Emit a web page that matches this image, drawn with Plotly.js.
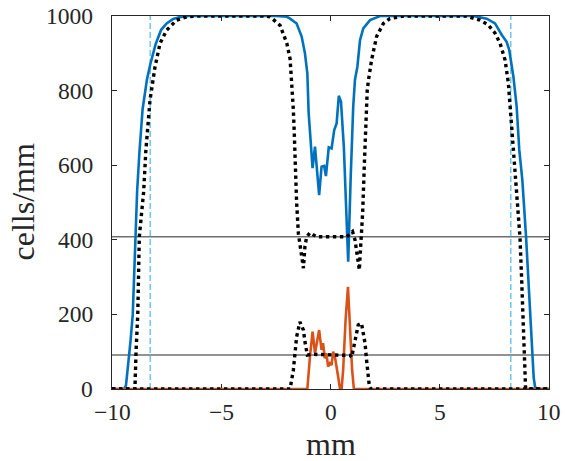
<!DOCTYPE html>
<html>
<head>
<meta charset="utf-8">
<script src="https://cdn.plot.ly/plotly-3.0.1.min.js"></script>
<style>html,body{margin:0;padding:0;background:#fff;}#chart{width:565px;height:461px;}</style>
</head>
<body>
<div id="chart"></div>
<script>
// Blue solid series
const blueX = [-10,-9.45,-9.36,-9.25,-9.15,-9.05,-8.98,-8.92,-8.85,-8.75,-8.6,-8.4,-8.25,-8.0,-7.75,-7.5,-7.2,-6.9,-6.5,-2.5,-2.0,-1.85,-1.55,-1.32,-1.17,-1.06,-1.0,-0.82,-0.71,-0.52,-0.41,-0.29,-0.21,-0.08,0.05,0.17,0.28,0.38,0.48,0.61,0.81,0.92,1.04,1.12,1.23,1.35,1.50,1.81,2.27,6.54,7.15,7.53,7.84,8.06,8.18,8.37,8.52,8.64,8.78,8.95,9.13,9.21,9.3,9.36,9.45,10];
const blueY = [0,0,10,70,130,200,330,440,530,630,750,830,870,925,963,980,992,997,1000,1000,998,993,980,945,900,846,740,592,650,520,596,598,571,648,645,694,712,786,770,650,341,560,757,829,864,935,967,989,1000,1000,993,980,949,931,909,838,757,641,560,408,203,96,30,6,0,0];

// Orange solid series
const orangeX = [-10,-1.06,-0.94,-0.82,-0.71,-0.52,-0.41,-0.34,-0.26,-0.19,-0.11,-0.03,0.05,0.12,0.2,0.28,0.35,0.43,0.51,0.58,0.69,0.80,0.89,0.99,1.07,10];
const orangeY = [0,0,87,154,96,158,105,123,82,96,60,69,64,100,87,51,33,2,2,51,185,274,167,51,0,0];

// Black dotted series (upper)
const dotTopX = [-10,-8.95,-8.9,-8.82,-8.75,-8.55,-8.45,-8.35,-8.26,-8.03,-7.80,-7.5,-7.04,-6.58,-6.0,-3.0,-2.77,-2.31,-2.0,-1.85,-1.77,-1.70,-1.66,-1.62,-1.55,-1.47,-1.32,-1.24,-1.17,-1.09,-0.94,-0.64,0.74,1.01,1.12,1.23,1.32,1.38,1.47,1.55,1.62,1.68,1.73,1.88,2.11,2.42,2.72,3.33,6.2,6.54,6.84,7.22,7.53,7.76,7.99,8.14,8.25,8.37,8.48,8.67,8.75,8.82,8.90,8.93,10];
const dotTopY = [0,0,100,200,408,530,640,720,775,864,927,962,989,998,1000,1000,998,975,927,885,824,748,690,605,500,417,346,324,382,408,419,408,408,422,400,355,319,382,471,605,739,800,825,882,945,980,993,1000,1000,993,989,976,954,927,882,820,730,641,556,408,292,158,24,0,0];

// Black dotted series (lower)
const dotLowX = [-10,-1.85,-1.70,-1.62,-1.55,-1.40,-1.24,-1.17,-1.06,-0.8,0.9,0.97,1.04,1.17,1.27,1.42,1.58,1.65,1.78,1.85,10];
const dotLowY = [0,0,51,96,140,180,158,127,91,93,90,85,105,140,172,176,123,78,6,0,0];

// Reference lines
const hLevels = [408, 91];
const vMarks = [-8.25, 8.25];

const xTicks = [-10, -5, 0, 5, 10];
const yTicks = [0, 200, 400, 600, 800, 1000];
const xTitle = 'mm';
const yTitle = 'cells/mm';

const FONT = 'Liberation Serif';
const TXT = '#262626';

const shapes = [];
hLevels.forEach(v => shapes.push({type:'line', xref:'paper', x0:0, x1:1, yref:'y', y0:v, y1:v, layer:'below', line:{color:'#6e6e6e', width:1.5}}));
vMarks.forEach(v => shapes.push({type:'line', yref:'paper', y0:0, y1:1, xref:'x', x0:v, x1:v, layer:'below', line:{color:'#74c8f0', width:1.6, dash:'6px,3px'}}));

const annotations = [];
xTicks.forEach(v => annotations.push({
  xref:'x', x:v, yref:'paper', y:0, xanchor:'center', yanchor:'top', yshift:-9,
  text: v < 0 ? '\u2212' + Math.abs(v) : String(v), showarrow:false, borderpad:0,
  font:{family:FONT, size:23.5, color:TXT}
}));
yTicks.forEach(v => annotations.push({
  xref:'paper', x:0, yref:'y', y:v, xanchor:'right', yanchor:'middle', xshift:-18,
  text: String(v), showarrow:false, borderpad:0,
  font:{family:FONT, size:23.5, color:TXT}
}));
annotations.push({xref:'paper', x:0.5, yref:'paper', y:0, xanchor:'center', yanchor:'top', yshift:-36,
  text:xTitle, showarrow:false, borderpad:0, font:{family:FONT, size:32, color:TXT}});
annotations.push({xref:'paper', x:0, yref:'paper', y:0.5, xanchor:'center', yanchor:'middle', xshift:-90, textangle:-90,
  text:yTitle, showarrow:false, borderpad:0, font:{family:FONT, size:32, color:TXT}});

const traces = [
  {x: blueX, y: blueY, mode:'lines', line:{color:'#0072BD', width:2.6}, cliponaxis:false},
  {x: orangeX, y: orangeY, mode:'lines', line:{color:'#D95319', width:2.6}, cliponaxis:false},
  {x: dotTopX, y: dotTopY, mode:'lines', line:{color:'#000000', width:3.4, dash:'3.4px,3.6px'}, cliponaxis:false},
  {x: dotLowX, y: dotLowY, mode:'lines', line:{color:'#000000', width:3.4, dash:'3.4px,3.6px'}, cliponaxis:false}
];

function axis(extra) {
  return Object.assign({
    showgrid:false, zeroline:false, showline:true, mirror:'ticks', showticklabels:false,
    linecolor:'#262626', linewidth:1, ticks:'inside', ticklen:5, tickwidth:1, tickcolor:'#262626',
    layer:'below traces', automargin:false
  }, extra);
}

const layout = {
  width:565, height:461,
  font:{family:FONT, size:22, color:TXT},
  margin:{l:112, r:16, t:16, b:72, pad:0},
  paper_bgcolor:'#ffffff', plot_bgcolor:'#ffffff',
  showlegend:false,
  shapes: shapes,
  annotations: annotations,
  xaxis: axis({range:[-10,10], tickvals:xTicks}),
  yaxis: axis({range:[0,1000], tickvals:yTicks})
};

Plotly.newPlot('chart', traces, layout, {displayModeBar:false, staticPlot:true});
</script>
</body>
</html>
